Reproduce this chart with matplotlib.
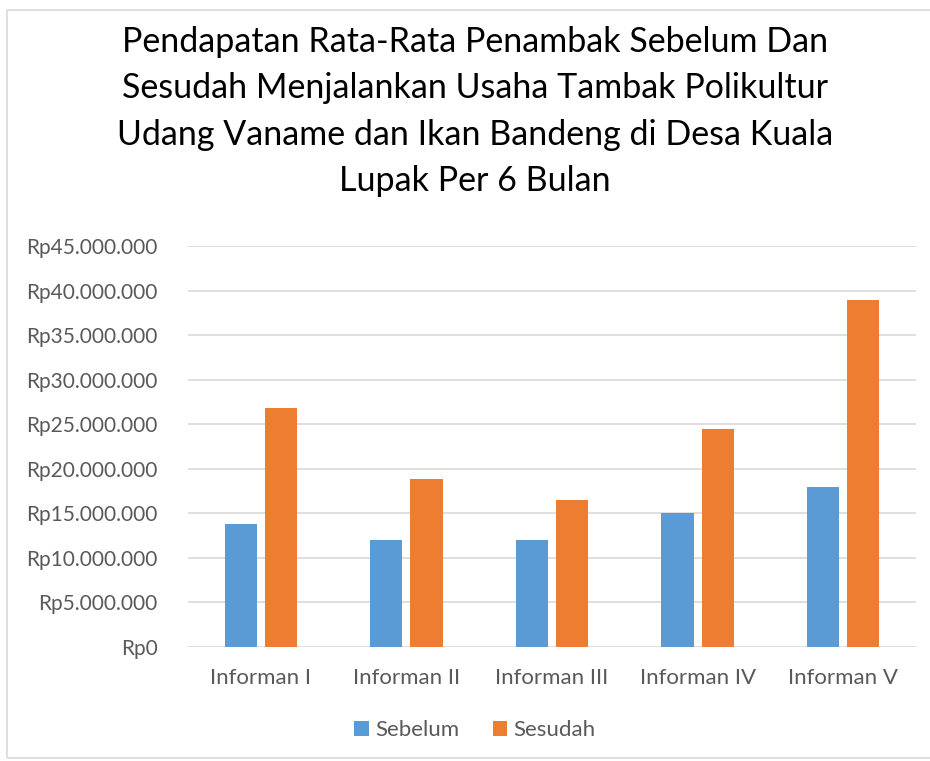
import matplotlib
matplotlib.use("Agg")
import matplotlib.pyplot as plt
from matplotlib.patches import Rectangle
from matplotlib.ticker import FuncFormatter, MultipleLocator
import numpy as np

categories = ["Informan I", "Informan II", "Informan III", "Informan IV", "Informan V"]
sebelum = [13800000, 12000000, 12000000, 15000000, 18000000]
sesudah = [26800000, 18900000, 16500000, 24500000, 38900000]
series_names = ["Sebelum", "Sesudah"]
title = ("Pendapatan Rata-Rata Penambak Sebelum Dan\n"
         "Sesudah Menjalankan Usaha Tambak Polikultur\n"
         "Udang Vaname dan Ikan Bandeng di Desa Kuala\n"
         "Lupak Per 6 Bulan")

plt.rcParams['font.family'] = ['Lato', 'DejaVu Sans']

fig = plt.figure(figsize=(9.3, 7.61), dpi=100)
ax = fig.add_axes([188/930, 1-647/761, (916-188)/930, (647-246)/761])

x = np.arange(len(categories))
w = 0.22
off = 0.138
ax.bar(x - off, sebelum, w, color="#5b9bd5", label=series_names[0], zorder=3)
ax.bar(x + off, sesudah, w, color="#ed7d31", label=series_names[1], zorder=3)

ax.set_xlim(-0.5, len(categories) - 0.5)
ax.set_ylim(0, 45000000)
ax.yaxis.set_major_locator(MultipleLocator(5000000))
ax.yaxis.set_major_formatter(FuncFormatter(lambda v, p: "Rp" + f"{int(round(v)):,}".replace(",", ".")))
ax.grid(axis="y", color="#d9d9d9", linewidth=1.2, zorder=0)
for s in ax.spines.values():
    s.set_visible(False)
ax.tick_params(axis="both", length=0, labelcolor="#595959")
ax.tick_params(axis="y", pad=22, labelsize=15)
ax.tick_params(axis="x", pad=15, labelsize=16)
ax.set_xticks(x)
ax.set_xticklabels(categories)

fig.text(475/930, 1-26/761, title, ha="center", va="top", fontsize=24.5,
         linespacing=1.55, color="#000000")

leg = fig.legend(loc="center", bbox_to_anchor=(475/930, 1-730/761), ncol=2, frameon=False,
                 fontsize=16, handlelength=0.65, handleheight=0.65, handletextpad=0.3,
                 columnspacing=1.5)
for t in leg.get_texts():
    t.set_color("#595959")

fig.patches.append(Rectangle((7/930, 3/761), 1.0, 1-13/761, transform=fig.transFigure,
                             fill=False, edgecolor="#d9d9d9", linewidth=1.2))

fig.savefig("out.png", dpi=100, facecolor="white")
